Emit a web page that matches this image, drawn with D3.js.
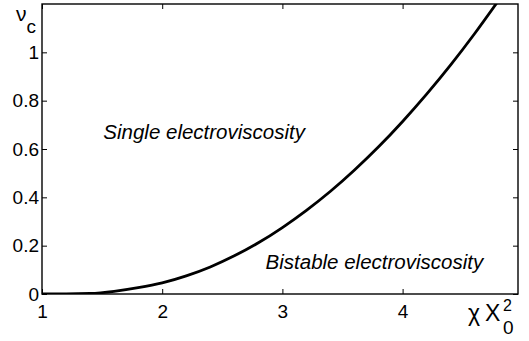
<!DOCTYPE html>
<html>
<head>
<meta charset="utf-8">
<script src="https://cdn.jsdelivr.net/npm/d3@7"></script>
<style>
  body { margin: 0; background: #fff; }
  svg { display: block; font-family: "Liberation Sans", Arial, sans-serif; }
</style>
</head>
<body>
<svg id="chart" width="529" height="341"></svg>
<script>
// critical curve nu_c vs chi*X0^2
const chiX = [1.0, 1.2, 1.4, 1.6, 1.8, 2.0, 2.2, 2.4, 2.6, 2.8, 3.0, 3.2, 3.4, 3.6, 3.8, 4.0, 4.2, 4.4, 4.6, 4.8];
const nuC  = [0, 0, 0.002, 0.011, 0.026, 0.046, 0.075, 0.112, 0.158, 0.212, 0.275, 0.346, 0.425, 0.513, 0.609, 0.714, 0.827, 0.948, 1.078, 1.216];

const xTicks = [1, 2, 3, 4];
const yTicks = [0, 0.2, 0.4, 0.6, 0.8, 1];

const regionLabels = [
  { text: "Single electroviscosity", x: 1.51, y: 0.643 },
  { text: "Bistable electroviscosity", x: 2.86, y: 0.103 }
];

const margin = { top: 4, right: 11, bottom: 47, left: 42 };
const width = 529 - margin.left - margin.right;
const height = 341 - margin.top - margin.bottom;

const svg = d3.select("#chart");
const g = svg.append("g")
  .attr("transform", "translate(" + margin.left + "," + margin.top + ")");

const x = d3.scaleLinear().domain([1, 4.96]).range([0, width]);
const y = d3.scaleLinear().domain([0, 1.2]).range([height, 0]);

// axes, matlab style: inward ticks on all four sides
const tick = 5;
const styleAxis = sel => {
  sel.select(".domain").remove();
  sel.selectAll(".tick line").attr("stroke", "#000").attr("stroke-width", 1);
  sel.selectAll(".tick text").attr("fill", "#000").style("font-size", "19px");
};

g.append("g")
  .attr("transform", "translate(0," + height + ")")
  .call(d3.axisBottom(x).tickValues(xTicks).tickSizeInner(-tick).tickSizeOuter(0).tickPadding(11).tickFormat(d3.format("d")))
  .call(styleAxis);

g.append("g")
  .call(d3.axisTop(x).tickValues(xTicks).tickSizeInner(-tick).tickSizeOuter(0).tickFormat(""))
  .call(styleAxis);

g.append("g")
  .call(d3.axisLeft(y).tickValues(yTicks).tickSizeInner(-tick).tickSizeOuter(0).tickPadding(3).tickFormat(d => String(d)))
  .call(styleAxis);

g.append("g")
  .attr("transform", "translate(" + width + ",0)")
  .call(d3.axisRight(y).tickValues(yTicks).tickSizeInner(-tick).tickSizeOuter(0).tickFormat(""))
  .call(styleAxis);

g.append("rect")
  .attr("width", width)
  .attr("height", height)
  .attr("fill", "none")
  .attr("stroke", "#000")
  .attr("stroke-width", 1.4);

// curve
g.append("clipPath").attr("id", "clip")
  .append("rect").attr("width", width).attr("height", height);

const line = d3.line()
  .x((d, i) => x(chiX[i]))
  .y(d => y(d))
  .curve(d3.curveMonotoneX);

g.append("path")
  .datum(nuC)
  .attr("clip-path", "url(#clip)")
  .attr("fill", "none")
  .attr("stroke", "#000")
  .attr("stroke-width", 2.8)
  .attr("d", line);

// region labels
g.selectAll("text.region")
  .data(regionLabels)
  .enter()
  .append("text")
  .attr("class", "region")
  .attr("x", d => x(d.x))
  .attr("y", d => y(d.y))
  .style("font-size", "20.5px")
  .style("font-style", "italic")
  .text(d => d.text);

// axis titles
const yl = svg.append("text").attr("x", 16).attr("y", 21).style("font-size", "21px");
yl.append("tspan").text("ν");
yl.append("tspan").attr("dy", 12).style("font-size", "19px").text("c");

svg.append("text").attr("x", 468).attr("y", 321).style("font-size", "23px").text("χ");
svg.append("text").attr("x", 485).attr("y", 321).style("font-size", "23px").text("X");
svg.append("text").attr("x", 503).attr("y", 311).style("font-size", "16px").text("2");
svg.append("text").attr("x", 503).attr("y", 334).style("font-size", "19px").text("0");
</script>
</body>
</html>
